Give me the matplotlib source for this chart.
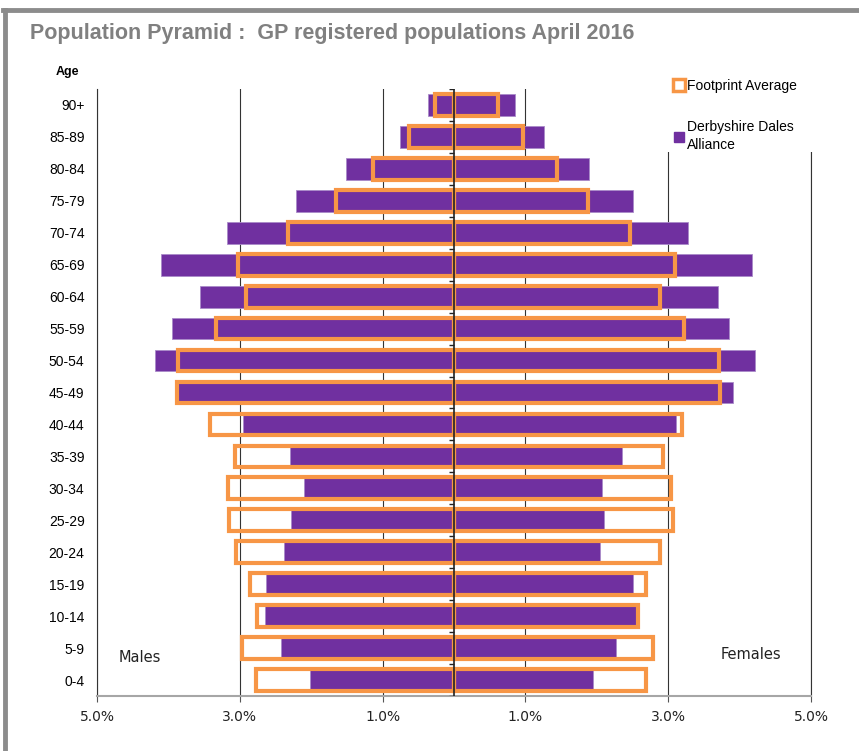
import numpy as np
import matplotlib.pyplot as plt
from matplotlib.lines import Line2D
from matplotlib.patches import Rectangle

ages = ["0-4", "5-9", "10-14", "15-19", "20-24", "25-29", "30-34", "35-39",
        "40-44", "45-49", "50-54", "55-59", "60-64", "65-69", "70-74",
        "75-79", "80-84", "85-89", "90+"]

# Derbyshire Dales Alliance (% of population)
dd_male = [2.02, 2.42, 2.65, 2.63, 2.38, 2.28, 2.10, 2.30, 2.96, 3.88,
           4.19, 3.95, 3.56, 4.10, 3.18, 2.21, 1.51, 0.76, 0.36]
dd_female = [1.95, 2.27, 2.56, 2.51, 2.04, 2.10, 2.07, 2.35, 3.11, 3.91,
             4.22, 3.85, 3.70, 4.17, 3.28, 2.51, 1.89, 1.26, 0.85]

# Footprint average (% of population)
fp_male = [2.77, 2.97, 2.76, 2.86, 3.05, 3.15, 3.17, 3.07, 3.42, 3.88,
           3.87, 3.33, 2.91, 3.03, 2.32, 1.65, 1.13, 0.63, 0.27]
fp_female = [2.69, 2.79, 2.58, 2.69, 2.89, 3.07, 3.04, 2.93, 3.19, 3.73,
             3.71, 3.22, 2.89, 3.10, 2.46, 1.88, 1.44, 0.97, 0.62]

xticks = [-5, -3, -1, 1, 3, 5]

purple = "#7030A0"
orange = "#F79646"

fig = plt.figure(figsize=(8.59, 7.51), dpi=100)
ax = fig.add_axes([97/859, 1-696/751, 714/859, 607/751])

y = np.arange(len(ages))
h = 0.68

ax.barh(y, -np.array(dd_male), height=h, color=purple, edgecolor="#a98bc9", lw=0.6, zorder=2)
ax.barh(y, dd_female, height=h, color=purple, edgecolor="#a98bc9", lw=0.6, zorder=2)
ax.barh(y, -np.array(fp_male), height=h, fill=False, edgecolor=orange, lw=3, zorder=3)
ax.barh(y, fp_female, height=h, fill=False, edgecolor=orange, lw=3, zorder=3)

# centre axis with category tick marks
ax.axvline(0, color="#222222", lw=1.2, zorder=5)
ax.hlines(np.arange(-0.5, len(ages)), -0.07, 0, color="#222222", lw=1, zorder=5)

ax.set_xlim(-5, 5)
ax.set_ylim(-0.5, len(ages) - 0.5)
ax.set_xticks(xticks)
ax.set_xticklabels([f"{abs(v):.1f}%" for v in xticks], fontsize=10, color="#222222")
ax.set_yticks(y)
ax.set_yticklabels(ages, fontsize=10, family="Liberation Sans")
ax.tick_params(axis="y", length=0, pad=9)
ax.tick_params(axis="x", length=4, width=0.8, color="#555555", pad=6)
ax.grid(axis="x", color="#333333", lw=0.8, zorder=0)
ax.set_axisbelow(True)

ax.spines["top"].set_visible(False)
ax.spines["left"].set_color("#333333")
ax.spines["left"].set_linewidth(0.8)
ax.spines["right"].set_color("#333333")
ax.spines["right"].set_linewidth(0.8)
ax.spines["bottom"].set_color("#a6a6a6")
ax.spines["bottom"].set_linewidth(1.5)

ax.text(0.03, 0.064, "Males", transform=ax.transAxes, fontsize=10.5, va="center", color="#222222")
ax.text(0.873, 0.069, "Females", transform=ax.transAxes, fontsize=10.5, va="center", color="#222222")

fig.text(30/859, 1-33/751, "Population Pyramid :  GP registered populations April 2016",
         fontsize=15.5, fontweight="bold", color="#808080", va="center", family="Liberation Sans")
fig.text(67/859, 1-72/751, "Age", fontsize=9, fontweight="bold", ha="center", va="center",
         family="Liberation Sans")

# white area behind legend (covers top of right-hand lines)
fig.patches.append(Rectangle((658/859, 1-152/751), 200/859, 92/751, transform=fig.transFigure,
                             facecolor="white", edgecolor="none", zorder=4))
handles = [
    Line2D([], [], ls="none", marker="s", ms=8, mfc="white", mec=orange, mew=2.5),
    Line2D([], [], ls="none", marker="s", ms=7, mfc=purple, mec=purple),
]
leg = fig.legend(handles, ["Footprint Average", "Derbyshire Dales\nAlliance"],
                 loc="upper left", bbox_to_anchor=(668/859, 1-73/751), frameon=False,
                 prop={"family": "Liberation Sans", "size": 10}, handlelength=0.8,
                 handletextpad=0.2, labelspacing=2.0, borderaxespad=0)
for t in leg.get_texts():
    t.set_linespacing(1.35)
leg.set_zorder(6)

# outer frame (top and left edges)
fig.add_artist(Line2D([3/859, 1], [1-10/751, 1-10/751], transform=fig.transFigure,
                      color="#8c8c8c", lw=3.5))
fig.add_artist(Line2D([5/859, 5/859], [0, 1-10/751], transform=fig.transFigure,
                      color="#8c8c8c", lw=3.5))

fig.savefig("out.png", dpi=100)
plt.close()
